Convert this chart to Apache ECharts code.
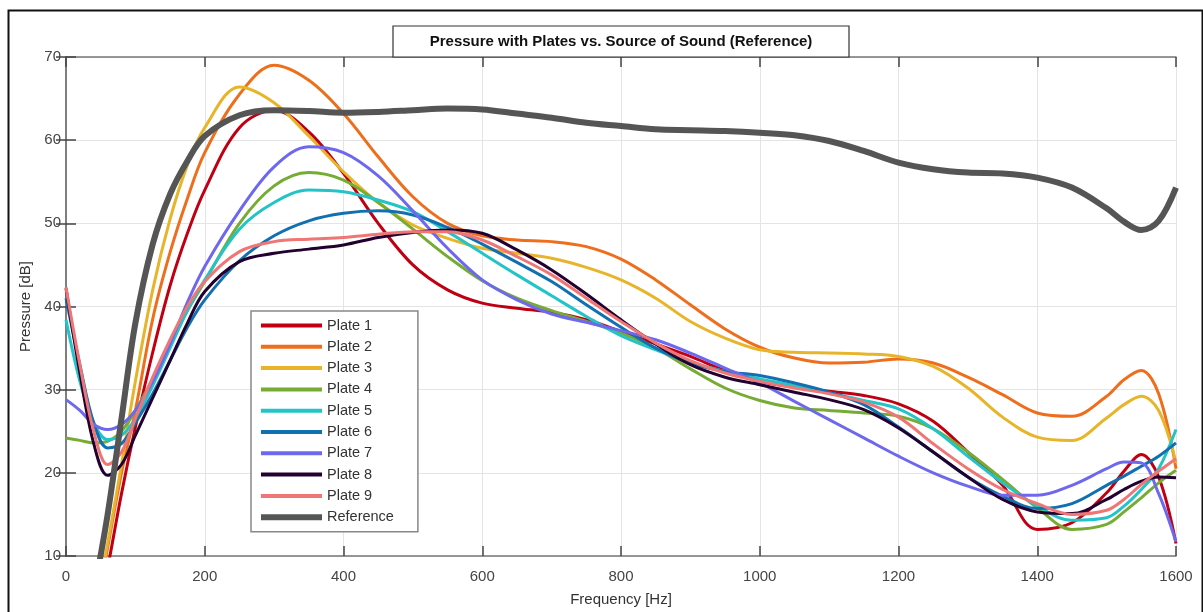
<!DOCTYPE html>
<html>
<head>
<meta charset="utf-8">
<script src="https://cdn.jsdelivr.net/npm/echarts@6/dist/echarts.min.js"></script>
<style>html,body{margin:0;padding:0;background:#fff}#c{width:1203px;height:612px}</style>
</head>
<body>
<div id="c"></div>
<script>
const freq = [0,20,40,60,80,100,125,150,175,200,250,300,350,400,450,500,550,600,650,700,750,800,850,900,950,1000,1050,1100,1150,1200,1250,1300,1350,1400,1450,1500,1525,1550,1575,1600];
const xTicks = [0,200,400,600,800,1000,1200,1400,1600];
const yTicks = [10,20,30,40,50,60,70];
const seriesNames = ['Plate 1','Plate 2','Plate 3','Plate 4','Plate 5','Plate 6','Plate 7','Plate 8','Plate 9','Reference'];
const plate1 = [-15,-8,0,8.5,17.5,25.5,34.5,42.5,48.8,54,61.5,63.6,61,56,50,45,42,40.4,39.8,39.3,38.4,37,35.5,34,32.3,31,30.3,29.8,29.3,28.3,26.2,22.5,18.5,13.2,14.0,17.6,20.2,22.2,19.5,11.5];
const plate2 = [-12,-5,2,11,20,27.5,38.5,46.5,53,58.5,65.5,69,67.2,63.2,58,53.2,50,48.5,48,47.8,47.2,45.7,43.2,40.2,37.3,35.1,33.8,33.2,33.3,33.7,33.2,31.5,29.4,27.2,26.8,29.2,31.2,32.3,29.5,20.5];
const plate3 = [-12,-5,3,11.5,21,31,42,50.5,57,61.5,66.4,64.5,60.5,56.2,52.5,49.8,48.2,47,46.4,45.8,44.7,43.2,41,38.2,36.2,34.8,34.5,34.4,34.3,34.0,32.8,30.2,26.7,24.3,23.9,26.6,28.2,29.2,27.5,21.2];
const plate4 = [24.2,23.9,23.6,23.8,25,27.5,31.3,35.5,39.5,43,50,54.5,56.1,55.2,52.5,49.3,46,43.1,41,39.5,38.2,36.8,35,32.5,30.2,28.7,27.8,27.5,27.2,26.8,25.3,22.5,19.2,15.8,13.2,13.8,15.3,17,18.8,20.3];
const plate5 = [38.4,31,26,24,24.5,26.5,30.5,35,39.5,43.2,49.3,52.5,54,53.8,52.8,51.4,49,46.4,43.8,41.3,38.8,36.5,34.8,33.3,32.2,31.3,30.5,29.6,28.7,27.7,25.3,22,18.8,16,14.3,14.6,16,18,20.5,25.2];
const plate6 = [41,33,26,23,23.5,26,29.5,33.5,37.5,40.8,45.5,48.5,50.3,51.2,51.5,51,49.5,47.5,45.3,43,40.2,37.5,35,33.2,32.2,31.7,30.8,29.7,28.2,25.5,22.5,19.5,17.2,15.7,16.3,18.5,19.6,20.8,22,23.6];
const plate7 = [28.8,27.5,25.8,25.2,25.8,27.5,31,35.5,40.5,44.8,51.5,56.8,59.2,58.5,55.7,51.5,47,43.2,40.8,39.1,38.1,37.1,36,34.4,32.6,30.8,28.6,26.4,24.2,22,20,18.4,17.3,17.3,18.5,20.5,21.3,21.2,17.5,11.7];
const plate8 = [42.2,32,23.5,19.7,21,24.5,29,33.5,38,41.8,45.4,46.4,46.9,47.4,48.3,48.9,49.2,48.8,46.8,44.4,41.5,38.4,35.5,33,31.5,30.6,29.7,28.8,27.6,25.4,22.5,19.5,16.8,15.3,15.1,16.8,18,19,19.5,19.4];
const plate9 = [42.3,33,25,21,22.5,26.5,31.5,36,40,43,46.6,47.8,48.1,48.3,48.7,49,49,48,46,43.8,41,38.2,35.6,33.5,32,31,30.2,29.5,28.5,26.7,23.5,20.5,18,16.3,15,15.5,16.8,18.6,20.2,21.7];
const reference = [-12,-3.5,5.5,15,26.5,38,47.5,53.5,57.5,60.5,63,63.6,63.5,63.3,63.4,63.6,63.8,63.7,63.2,62.7,62.1,61.7,61.3,61.2,61.1,60.9,60.6,59.9,58.7,57.3,56.5,56.1,56.0,55.5,54.3,51.8,50.2,49.2,50.3,54.3];

const allValues = [plate1,plate2,plate3,plate4,plate5,plate6,plate7,plate8,plate9,reference];
const colors = ['#C00012','#EE6E1C','#E8B42A','#76AC34','#22C4C8','#1270B0','#6D68EE','#220030','#F07676','#555555'];
const widths = [3,3,3,3,3,3,3,3,3,6];

const chart = echarts.init(document.getElementById('c'), null, {renderer:'canvas'});
const FONT = 'Liberation Sans, Arial, Helvetica, sans-serif';

const series = seriesNames.map((name,i)=>({
  name: name,
  type: 'line',
  data: freq.map((f,j)=>[f, allValues[i][j]]),
  smooth: 0.35,
  showSymbol: false,
  symbol: 'none',
  clip: true,
  lineStyle: {color: colors[i], width: widths[i]},
  itemStyle: {color: colors[i]},
  z: i===9 ? 3 : 2
}));

const legendData = seriesNames.map((name,i)=>({
  name: name,
  icon: i===9 ? 'path://M0,0H61V6H0Z' : 'path://M0,0H61V4H0Z',
  itemStyle: {color: colors[i], borderWidth: 0}
}));

chart.setOption({
  animation: false,
  backgroundColor: '#fff',
  grid: {left: 66, top: 57, right: 27, bottom: 51, containLabel: false},
  xAxis: [{
    type: 'value', min: 0, max: 1600, interval: 200,
    name: 'Frequency [Hz]', nameLocation: 'middle', nameGap: 36,
    nameTextStyle: {fontFamily: FONT, fontSize: 15, color: '#333'},
    axisLine: {show: true, lineStyle: {color: '#777', width: 1.5}},
    axisTick: {show: true, inside: true, length: 10, lineStyle: {color: '#444', width: 1.5}},
    axisLabel: {fontFamily: FONT, fontSize: 15, color: '#444', margin: 13,
      formatter: v => xTicks.includes(v) ? String(v) : ''},
    splitLine: {show: true, lineStyle: {color: '#e4e4e4', width: 1}}
  },{
    type: 'value', min: 0, max: 1600, interval: 200, position: 'top',
    axisLine: {show: true, lineStyle: {color: '#777', width: 1.5}},
    axisTick: {show: true, inside: true, length: 10, lineStyle: {color: '#444', width: 1.5}},
    axisLabel: {show: false}, splitLine: {show: false}
  }],
  yAxis: [{
    type: 'value', min: 10, max: 70, interval: 10,
    name: 'Pressure [dB]', nameLocation: 'middle', nameGap: 33, nameRotate: 90,
    nameTextStyle: {fontFamily: FONT, fontSize: 15, color: '#333'},
    axisLine: {show: true, lineStyle: {color: '#777', width: 1.5}},
    axisTick: {show: true, inside: true, length: 10, lineStyle: {color: '#444', width: 1.5}},
    axisLabel: {fontFamily: FONT, fontSize: 15, color: '#444', margin: 5,
      formatter: v => yTicks.includes(v) ? String(v) : ''},
    splitLine: {show: true, lineStyle: {color: '#e4e4e4', width: 1}}
  },{
    type: 'value', min: 10, max: 70, interval: 10, position: 'right',
    axisLine: {show: true, lineStyle: {color: '#777', width: 1.5}},
    axisTick: {show: true, inside: true, length: 10, lineStyle: {color: '#444', width: 1.5}},
    axisLabel: {show: false}, splitLine: {show: false}
  }],
  legend: {
    data: legendData,
    orient: 'vertical',
    left: 251, top: 311,
    padding: [7, 24, 7, 10],
    itemWidth: 61, itemHeight: 14, itemGap: 6.3,
    symbolKeepAspect: true,
    backgroundColor: '#fff',
    borderColor: '#888', borderWidth: 1.5, borderRadius: 0,
    textStyle: {fontFamily: FONT, fontSize: 14.5, color: '#333'},
    selectedMode: false
  },
  graphic: [
    {type: 'rect', left: 6, top: 8, z: 100, silent: true,
     shape: {x: 0, y: 0, width: 1194, height: 620},
     style: {fill: 'none', stroke: '#111', lineWidth: 2}},
    {type: 'rect', z: 100, silent: true,
     shape: {x: 393, y: 26, width: 456, height: 31},
     style: {fill: '#fff', stroke: '#333', lineWidth: 1.2}},
    {type: 'text', z: 101, silent: true, x: 621, y: 42,
     style: {text: 'Pressure with Plates vs. Source of Sound (Reference)', fontFamily: FONT, fontWeight: 'bold',
       fontSize: 15, fill: '#111', align: 'center', verticalAlign: 'middle'}}
  ],
  series: series
});
</script>
</body>
</html>
